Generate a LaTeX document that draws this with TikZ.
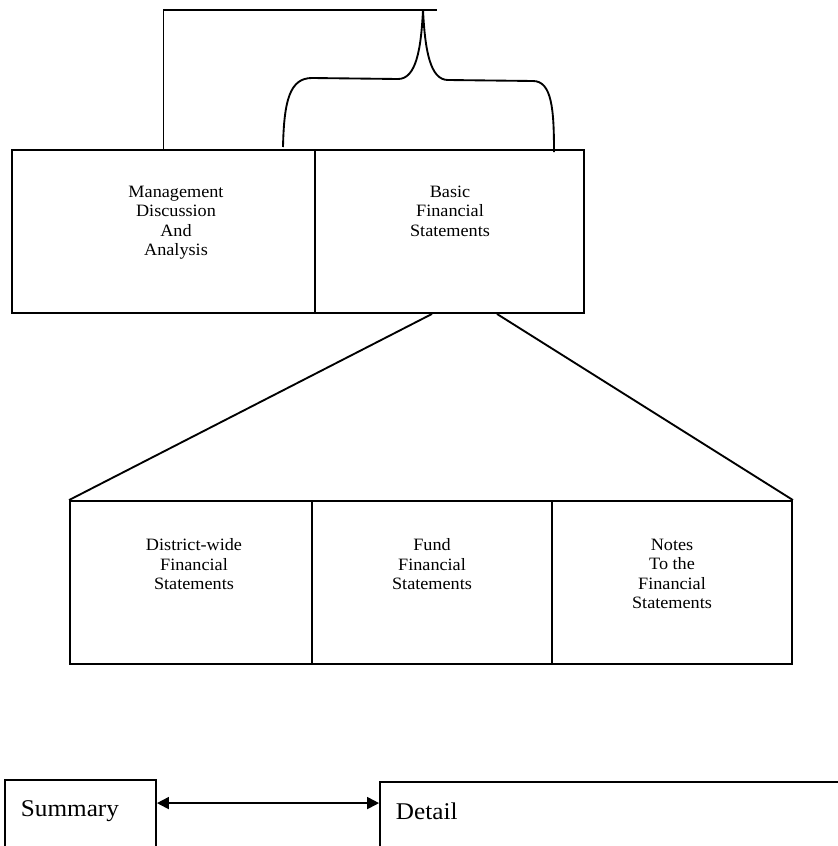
\documentclass[tikz,border=0pt]{standalone}
\usepackage{fontspec}
\setmainfont{Liberation Serif}
\newfontfamily\diagfont[FakeStretch=1.05]{Liberation Serif}
\usetikzlibrary{arrows.meta,calc}
\begin{document}
\begin{tikzpicture}[x=0.75pt,y=-0.75pt,
  every path/.style={line width=1.4pt},
  box/.style={draw,rectangle,inner sep=0pt,line width=1.4pt,minimum height=122.25pt},
  lbl/.style={inner sep=0pt,anchor=north,align=center,font=\diagfont\fontsize{13}{14.6}\selectfont},
  biglbl/.style={inner sep=0pt,anchor=west,font=\diagfont\fontsize{18}{21}\selectfont},
  conn/.style={line width=1.4pt}]
\useasboundingbox (0,0) rectangle (838,846);
% top row
\node[box,minimum width=227.25pt] (mgmt) at (163.5,231.5) {};
\node[box,minimum width=201.75pt] (basic) at (449.5,231.5) {};
\node[lbl] (mgmtt) at (176,185) {Management\\Discussion\\And\\Analysis};
\node[lbl] (basict) at (450,185) {Basic\\Financial\\Statements};
% bottom row
\node[box,minimum width=181.5pt] (dist) at (191,582.5) {};
\node[box,minimum width=180pt] (fund) at (432,582.5) {};
\node[box,minimum width=180pt] (notes) at (672,582.5) {};
\node[lbl] (distt) at (194,538) {District-wide\\Financial\\Statements};
\node[lbl] (fundt) at (432,538) {Fund\\Financial\\Statements};
\node[lbl] (notest) at (672,538) {Notes\\To the\\Financial\\Statements};
% top connector and brace
\coordinate (tr) at (437,10);
\coordinate (tip) at (423,10);
\coordinate (bl) at (283,147);
\coordinate (br) at (554,152);
\draw[conn] (mgmt.north) |- (tr);
\draw[conn] (bl) .. controls (284,100) and (290,78) .. (312,78)
  -- (398,79) .. controls (416,79) and (421,50) .. (tip)
  .. controls (425,50) and (430,80) .. (448,80)
  -- (533,81) .. controls (552,81) and (554,110) .. (br);
% expansion lines
\draw[conn] (basic.south -| fund.north) -- (dist.north west);
\draw[conn] ([xshift=35.6pt]basic.south) -- (notes.north east);
% summary / detail
\node[box,minimum width=113.25pt,minimum height=75pt] (summary) at (80.5,830) {};
\node[box,minimum width=390pt,minimum height=75pt] (detail) at (640,832) {};
\node[biglbl] (summaryt) at (20,811) {Summary};
\node[biglbl] (detailt) at (395,811) {Detail};
\draw[conn,{Triangle[length=9pt,width=9pt]}-{Triangle[length=9pt,width=9pt]}]
  ([yshift=-18pt]summary.north east) -- ([yshift=-16.5pt]detail.north west);
\end{tikzpicture}
\end{document}
